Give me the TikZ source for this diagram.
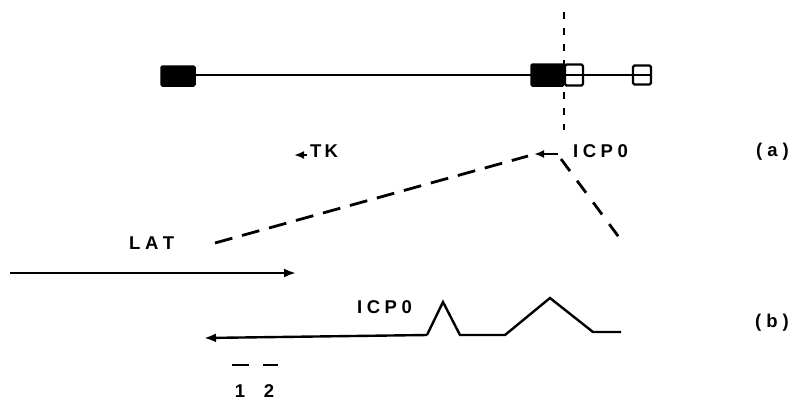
\documentclass[tikz,border=0pt]{standalone}
\usepackage{fontspec}
\setmainfont{Liberation Sans}
\usetikzlibrary{arrows.meta}
\newcommand\lsgap{\kern4.5pt}
\tikzset{
  lab/.style={inner sep=0pt, anchor=base west, font=\fontsize{18.5}{18.5}\selectfont\bfseries},
  gene/.style={line width=2.4pt},
  exonfill/.style={fill=black, draw=black, line width=1.5pt, rounded corners=1.5pt},
  exonopen/.style={fill=white, draw=black, line width=2.4pt, rounded corners=1.5pt},
  ldash/.style={line width=2.8pt, dash pattern=on 18pt off 10pt},
  rdash/.style={line width=2.8pt, dash pattern=on 15pt off 12pt},
  vdash/.style={line width=2.8pt, dash pattern=on 7pt off 9pt},
  arr/.style={line width=2.4pt, -{Latex[length=12pt,width=9pt]}},
  sarr/.style={line width=2.4pt, -{Latex[length=10pt,width=8pt]}}
}
\begin{document}
\begin{tikzpicture}[x=1pt,y=-1pt]
\useasboundingbox (0,0) rectangle (794,400);
% gene map
\coordinate (gL) at (195,75);
\coordinate (gR) at (633,75);
\draw[gene] (gL) -- (gR);
\node[exonfill, minimum width=34pt, minimum height=20pt, inner sep=0pt] (e1) at (178,76) {};
\node[exonfill, minimum width=33pt, minimum height=22pt, inner sep=0pt] (e2) at (547.5,75) {};
\node[exonopen, minimum width=18pt, minimum height=21pt, inner sep=0pt] (e3) at (574,75) {};
\draw[line width=2.4pt] (e3.west) -- (e3.east);
\node[exonopen, minimum width=18pt, minimum height=19pt, inner sep=0pt] (e4) at (642,75) {};
\draw[line width=2.4pt] (e4.west) -- (e4.east);
% vertical dashed line
\coordinate (vT) at (564,12);
\coordinate (vB) at (564,130);
\draw[vdash] (vT) -- (vB);
% TK
\node[lab] (tk) at (310,157) {T\kern3pt K};
\coordinate (tkS) at (307,155);
\coordinate (tkE) at (294,155);
\draw[sarr] (tkS) -- (tkE);
% ICP0 (a)
\node[lab] (icpa) at (573,157) {I\lsgap C\lsgap P\lsgap 0};
\coordinate (iaS) at (558,154);
\coordinate (iaE) at (534,154);
\draw[sarr] (iaS) -- (iaE);
% dashed expansion lines
\coordinate (d1a) at (215,243);
\coordinate (d1b) at (528,156);
\draw[ldash] (d1a) -- (d1b);
\coordinate (d2a) at (561,159);
\coordinate (d2b) at (621,240);
\draw[rdash] (d2a) -- (d2b);
% LAT
\node[lab] (lat) at (129,249) {L\lsgap A\lsgap T};
\coordinate (latS) at (10,273);
\coordinate (latE) at (296,273);
\draw[arr] (latS) -- (latE);
% ICP0 (b)
\node[lab] (icpb) at (357,313) {I\lsgap C\lsgap P\lsgap 0};
\coordinate (p1) at (427,335);
\coordinate (p2) at (443,302);
\coordinate (p3) at (460,335);
\coordinate (p4) at (505,335);
\coordinate (p5) at (550,298);
\coordinate (p6) at (593,332);
\coordinate (p7) at (621,332);
\coordinate (pE) at (204,338);
\draw[line width=2.4pt, line join=miter] (p7) -- (p6) -- (p5) -- (p4) -- (p3) -- (p2) -- (p1);
\draw[arr] (p1) -- (pE);
% probes
\coordinate (s1a) at (232,365); \coordinate (s1b) at (249,365);
\coordinate (s2a) at (263,365); \coordinate (s2b) at (278,365);
\draw[line width=2.8pt] (s1a) -- (s1b);
\draw[line width=2.8pt] (s2a) -- (s2b);
\node[lab, anchor=base] (n1) at (240,397) {1};
\node[lab, anchor=base] (n2) at (269,397) {2};
% panel labels
\node[lab] (pa) at (756,156) {(\kern5pt a\kern5pt )};
\node[lab] (pb) at (755,327) {(\kern5pt b\kern5pt )};
\end{tikzpicture}
\end{document}
